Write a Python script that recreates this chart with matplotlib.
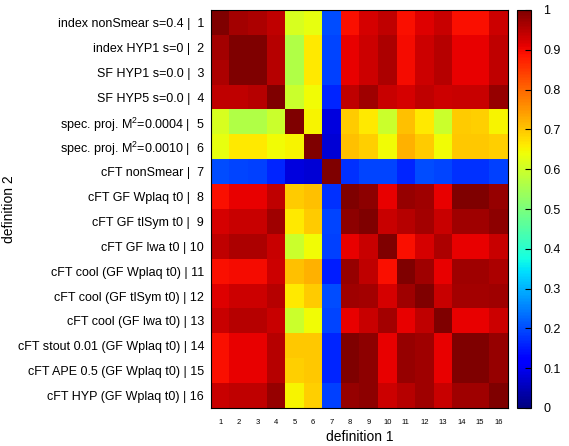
#!/usr/bin/env python3

import numpy
import matplotlib
matplotlib.use("Agg")
import matplotlib.pyplot as plt

#-------------------------------------------------------------
# correlation matrix (row = definition 2)
defNames = ["index nonSmear s=0.4", "index HYP1 s=0", "SF HYP1 s=0.0",
            "SF HYP5 s=0.0", "spec. proj. M$^2$=0.0004",
            "spec. proj. M$^2$=0.0010", "cFT nonSmear",
            "cFT GF Wplaq t0", "cFT GF tlSym t0", "cFT GF lwa t0",
            "cFT cool (GF Wplaq t0)", "cFT cool (GF tlSym t0)",
            "cFT cool (GF lwa t0)", "cFT stout 0.01 (GF Wplaq t0)",
            "cFT APE 0.5 (GF Wplaq t0)", "cFT HYP (GF Wplaq t0)"]

row1 = [1.0, 0.965, 0.958, 0.944, 0.613, 0.632, 0.203, 0.894, 0.923, 0.944, 0.894, 0.916, 0.937, 0.894, 0.894, 0.93]
row2 = [0.965, 1.0, 0.998, 0.951, 0.564, 0.664, 0.195, 0.909, 0.93, 0.958, 0.898, 0.93, 0.951, 0.909, 0.909, 0.944]
row3 = [0.958, 0.998, 1.0, 0.951, 0.564, 0.664, 0.19, 0.909, 0.93, 0.958, 0.898, 0.93, 0.951, 0.909, 0.909, 0.944]
row4 = [0.944, 0.944, 0.951, 1.0, 0.594, 0.641, 0.164, 0.944, 0.97, 0.937, 0.923, 0.944, 0.93, 0.937, 0.937, 0.979]
row5 = [0.613, 0.564, 0.564, 0.594, 1.0, 0.65, 0.083, 0.694, 0.664, 0.594, 0.707, 0.664, 0.594, 0.694, 0.69, 0.65]
row6 = [0.632, 0.664, 0.664, 0.641, 0.65, 1.0, 0.077, 0.707, 0.69, 0.641, 0.719, 0.694, 0.641, 0.698, 0.698, 0.69]
row7 = [0.203, 0.195, 0.188, 0.164, 0.083, 0.077, 1.0, 0.172, 0.195, 0.195, 0.164, 0.203, 0.195, 0.172, 0.172, 0.188]
row8 = [0.894, 0.909, 0.909, 0.944, 0.694, 0.707, 0.175, 1.0, 0.986, 0.909, 0.979, 0.972, 0.909, 0.998, 0.998, 0.979]
row9 = [0.923, 0.937, 0.937, 0.972, 0.664, 0.694, 0.195, 0.986, 1.0, 0.937, 0.951, 0.965, 0.937, 0.972, 0.972, 0.986]
row10 = [0.944, 0.958, 0.958, 0.937, 0.594, 0.641, 0.188, 0.909, 0.937, 1.0, 0.894, 0.923, 0.958, 0.909, 0.909, 0.937]
row11 = [0.894, 0.898, 0.898, 0.93, 0.707, 0.719, 0.156, 0.979, 0.944, 0.894, 1.0, 0.972, 0.909, 0.972, 0.972, 0.958]
row12 = [0.916, 0.93, 0.93, 0.951, 0.664, 0.694, 0.203, 0.972, 0.965, 0.923, 0.972, 1.0, 0.937, 0.965, 0.965, 0.972]
row13 = [0.937, 0.951, 0.951, 0.937, 0.594, 0.641, 0.195, 0.909, 0.937, 0.965, 0.909, 0.944, 1.0, 0.909, 0.909, 0.93]
row14 = [0.894, 0.909, 0.909, 0.951, 0.698, 0.698, 0.164, 0.998, 0.986, 0.909, 0.979, 0.972, 0.909, 1.0, 0.998, 0.979]
row15 = [0.894, 0.909, 0.909, 0.951, 0.69, 0.698, 0.164, 0.998, 0.986, 0.909, 0.979, 0.972, 0.909, 0.998, 1.0, 0.979]
row16 = [0.937, 0.944, 0.944, 0.979, 0.65, 0.69, 0.188, 0.979, 0.986, 0.93, 0.951, 0.972, 0.937, 0.972, 0.972, 1.0]

cbTicks = [0, 0.1, 0.2, 0.3, 0.4, 0.5, 0.6, 0.7, 0.8, 0.9, 1]
cbLabels = ["0", "0.1", "0.2", "0.3", "0.4", "0.5", "0.6", "0.7", "0.8", "0.9", "1"]

#-------------------------------------------------------------
def main():

    plt.rcParams['font.family'] = ['Liberation Sans', 'DejaVu Sans']
    plt.rcParams['mathtext.default'] = 'regular'

    corr = numpy.array([row1, row2, row3, row4, row5, row6, row7, row8,
                        row9, row10, row11, row12, row13, row14, row15, row16])
    n = len(defNames)

    fig = plt.figure(figsize=(5.69, 4.46), dpi=100)
    ax = fig.add_axes([211/569, 38/446, 297/569, 398/446])
    im = ax.imshow(corr, cmap="jet", vmin=0, vmax=1, aspect="auto",
                   interpolation="nearest")

    ax.set_xticks(range(n))
    ax.set_xticklabels([str(i + 1) for i in range(n)], fontsize=5.5)
    ax.set_yticks(range(n))
    ax.set_yticklabels(["{} |  {}".format(nm, i + 1) if i < 9
                        else "{} | {}".format(nm, i + 1)
                        for i, nm in enumerate(defNames)], fontsize=9)
    ax.tick_params(length=0)
    ax.tick_params(axis="x", pad=8)
    ax.tick_params(axis="y", pad=5)
    ax.set_xlabel("definition 1", fontsize=10, labelpad=3)
    ax.set_ylabel("definition 2", fontsize=10)
    ax.yaxis.set_label_coords(-0.655, 0.5)
    for sp in ax.spines.values():
        sp.set_linewidth(0.8)

    #colorbar
    cax = fig.add_axes([517/569, 38/446, 14/569, 398/446])
    cb = fig.colorbar(im, cax=cax, ticks=cbTicks)
    cb.ax.set_yticklabels(cbLabels)
    cb.ax.tick_params(labelsize=9, direction="in", length=4, width=0.8, pad=9)
    cb.outline.set_linewidth(0.8)

    fig.savefig("out.png", dpi=100)
    plt.close(fig)

#-------------------------------------------------------------
if __name__ == "__main__":
    main()
